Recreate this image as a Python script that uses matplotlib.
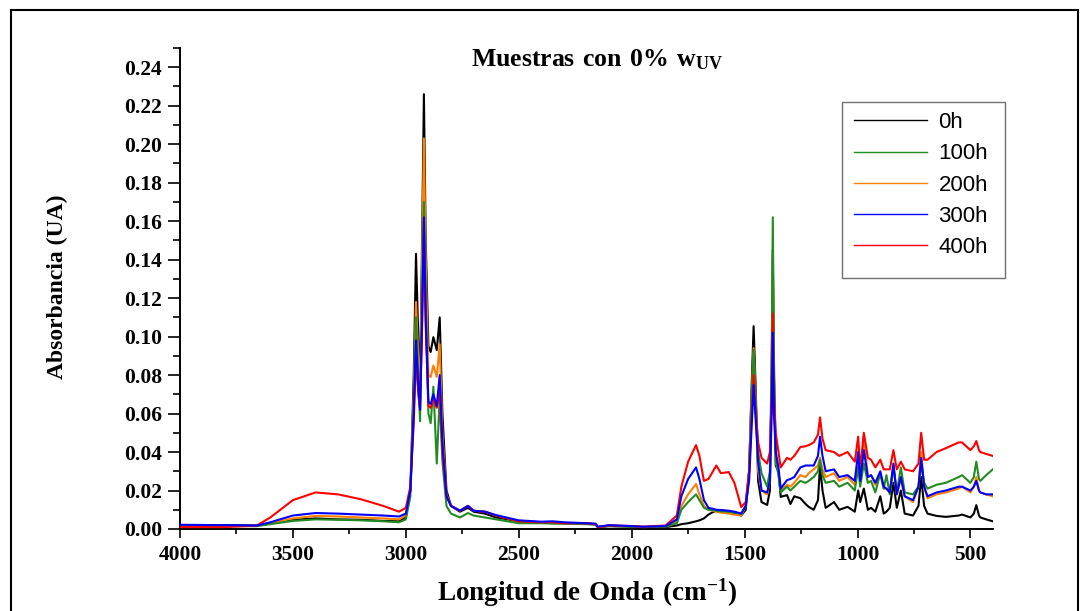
import matplotlib
matplotlib.use('Agg')
import matplotlib.pyplot as plt
from matplotlib.ticker import MultipleLocator, FormatStrFormatter
from matplotlib.patches import Rectangle

plt.rcParams['font.family'] = ['Liberation Serif', 'DejaVu Serif']
plt.rcParams['mathtext.fontset'] = 'custom'
plt.rcParams['mathtext.rm'] = 'Liberation Serif'
plt.rcParams['mathtext.bf'] = 'Liberation Serif:bold'

# wavenumbers (cm-1)
wn = [4000, 3800, 3660, 3600, 3500, 3400, 3300, 3200, 3100, 3030, 3000, 2980, 2965,
      2955, 2945, 2937, 2928, 2920, 2912, 2900, 2890, 2878, 2863, 2850, 2838, 2820,
      2800, 2760, 2725, 2700, 2650, 2600, 2500, 2400, 2350, 2300, 2200, 2160, 2150,
      2100, 2000, 1950, 1850, 1800, 1780, 1750, 1715, 1700, 1680, 1660, 1640, 1625,
      1605, 1570, 1545, 1515, 1495, 1480, 1470, 1460, 1450, 1440, 1425, 1400, 1388,
      1380, 1375, 1370, 1362, 1350, 1340, 1312, 1297, 1280, 1253, 1230, 1216, 1194,
      1175, 1166, 1155, 1141, 1104, 1081, 1044, 1012, 997, 988, 972, 954, 940, 921,
      899, 884, 872, 857, 841, 826, 808, 791, 754, 730, 718, 705, 690, 650, 609, 552,
      537, 500, 485, 474, 462, 456, 430, 401]

abs_0h = [0.002, 0.002, 0.0018, 0.003, 0.0048, 0.0055, 0.005, 0.0048, 0.0042, 0.004, 0.006, 0.02, 0.08,
          0.143, 0.10, 0.075, 0.15, 0.226, 0.15, 0.095, 0.092, 0.0997, 0.093, 0.110, 0.06, 0.02,
          0.012, 0.009, 0.011, 0.009, 0.008, 0.006, 0.004, 0.0035, 0.003, 0.003, 0.0028, 0.0025, 0.001,
          0.0015, 0.0012, 0.0008, 0.001, 0.0018, 0.0025, 0.003, 0.004, 0.0045, 0.0055, 0.0075, 0.0088, 0.0095,
          0.0099, 0.009, 0.008, 0.007, 0.010, 0.03, 0.07, 0.1054, 0.07, 0.025, 0.014, 0.0125, 0.02,
          0.08, 0.145, 0.08, 0.033, 0.03, 0.0167, 0.0176, 0.013, 0.017, 0.016, 0.013, 0.0115, 0.010,
          0.015, 0.033, 0.02, 0.011, 0.014, 0.010, 0.0115, 0.009, 0.020, 0.014, 0.021, 0.010, 0.011, 0.009,
          0.017, 0.008, 0.009, 0.011, 0.024, 0.011, 0.020, 0.008, 0.007, 0.012, 0.027, 0.012, 0.008, 0.0068, 0.0063, 0.007,
          0.0075, 0.006, 0.008, 0.0124, 0.007, 0.006, 0.005, 0.004]

abs_100h = [0.0015, 0.0015, 0.0015, 0.0025, 0.0042, 0.005, 0.0048, 0.0045, 0.004, 0.0035, 0.005, 0.017, 0.065,
            0.110, 0.08, 0.056, 0.12, 0.170, 0.12, 0.06, 0.055, 0.074, 0.034, 0.069, 0.035, 0.012,
            0.008, 0.006, 0.0083, 0.007, 0.006, 0.005, 0.003, 0.003, 0.0028, 0.0028, 0.0025, 0.0022, 0.001,
            0.0015, 0.0012, 0.001, 0.0012, 0.003, 0.010, 0.014, 0.018, 0.015, 0.011, 0.010, 0.0098, 0.0095,
            0.0092, 0.009, 0.0085, 0.008, 0.012, 0.03, 0.065, 0.093, 0.065, 0.04, 0.029, 0.022, 0.03,
            0.09, 0.162, 0.09, 0.035, 0.028, 0.019, 0.022, 0.020, 0.022, 0.025, 0.024, 0.025, 0.027,
            0.030, 0.036, 0.028, 0.024, 0.025, 0.022, 0.024, 0.020, 0.032, 0.022, 0.034, 0.024, 0.025, 0.019,
            0.029, 0.021, 0.028, 0.018, 0.032, 0.019, 0.032, 0.019, 0.018, 0.022, 0.034, 0.024, 0.021, 0.023, 0.024, 0.027,
            0.028, 0.024, 0.027, 0.035, 0.026, 0.025, 0.028, 0.031]

abs_200h = [0.0015, 0.0015, 0.0015, 0.003, 0.0055, 0.0068, 0.0065, 0.006, 0.0055, 0.005, 0.007, 0.02, 0.07,
            0.118, 0.09, 0.07, 0.14, 0.203, 0.14, 0.08, 0.079, 0.085, 0.079, 0.096, 0.05, 0.018,
            0.012, 0.0095, 0.012, 0.0095, 0.009, 0.007, 0.004, 0.0035, 0.0035, 0.003, 0.003, 0.0025, 0.001,
            0.0018, 0.0015, 0.001, 0.0015, 0.004, 0.012, 0.018, 0.0234, 0.018, 0.012, 0.010, 0.0095, 0.009,
            0.0085, 0.008, 0.0075, 0.007, 0.012, 0.03, 0.065, 0.094, 0.065, 0.03, 0.020, 0.018, 0.025,
            0.08, 0.14, 0.08, 0.035, 0.03, 0.020, 0.023, 0.022, 0.024, 0.028, 0.027, 0.029, 0.031,
            0.033, 0.037, 0.031, 0.027, 0.029, 0.025, 0.027, 0.023, 0.038, 0.024, 0.049, 0.027, 0.028, 0.023,
            0.028, 0.021, 0.021, 0.019, 0.034, 0.018, 0.026, 0.017, 0.014, 0.022, 0.040, 0.022, 0.016, 0.018, 0.019, 0.021,
            0.022, 0.019, 0.022, 0.027, 0.020, 0.019, 0.018, 0.017]

abs_300h = [0.0022, 0.002, 0.0018, 0.0035, 0.007, 0.0083, 0.008, 0.0075, 0.007, 0.0065, 0.008, 0.02, 0.06,
            0.098, 0.075, 0.062, 0.11, 0.162, 0.11, 0.066, 0.065, 0.070, 0.064, 0.080, 0.045, 0.017,
            0.012, 0.0095, 0.012, 0.0095, 0.009, 0.0072, 0.0045, 0.0038, 0.004, 0.0035, 0.003, 0.0028, 0.0012,
            0.002, 0.0015, 0.0012, 0.0015, 0.005, 0.017, 0.026, 0.032, 0.026, 0.015, 0.011, 0.0105, 0.010,
            0.0098, 0.0095, 0.009, 0.008, 0.012, 0.025, 0.05, 0.0748, 0.055, 0.035, 0.020, 0.019, 0.025,
            0.06, 0.102, 0.06, 0.04, 0.032, 0.021, 0.0254, 0.026, 0.027, 0.032, 0.033, 0.033, 0.033,
            0.038, 0.048, 0.038, 0.030, 0.031, 0.027, 0.028, 0.025, 0.040, 0.025, 0.041, 0.027, 0.028, 0.024,
            0.030, 0.022, 0.021, 0.019, 0.034, 0.018, 0.027, 0.017, 0.015, 0.022, 0.037, 0.022, 0.017, 0.019, 0.020, 0.022,
            0.022, 0.020, 0.022, 0.025, 0.020, 0.019, 0.018, 0.018]

abs_400h = [0.001, 0.001, 0.0018, 0.006, 0.015, 0.019, 0.018, 0.0155, 0.012, 0.009, 0.011, 0.022, 0.055,
            0.09, 0.07, 0.062, 0.105, 0.155, 0.105, 0.064, 0.063, 0.067, 0.063, 0.071, 0.04, 0.017,
            0.012, 0.0095, 0.012, 0.0095, 0.009, 0.007, 0.004, 0.0035, 0.0035, 0.003, 0.003, 0.0025, 0.001,
            0.0018, 0.0015, 0.0012, 0.0018, 0.007, 0.022, 0.035, 0.0436, 0.038, 0.025, 0.026, 0.030, 0.033,
            0.029, 0.0296, 0.024, 0.0114, 0.014, 0.03, 0.055, 0.080, 0.06, 0.045, 0.037, 0.034, 0.04,
            0.07, 0.112, 0.07, 0.05, 0.04, 0.032, 0.037, 0.036, 0.038, 0.0426, 0.043, 0.0436, 0.045,
            0.049, 0.058, 0.047, 0.041, 0.040, 0.038, 0.040, 0.035, 0.048, 0.031, 0.050, 0.037, 0.036, 0.032,
            0.036, 0.031, 0.031, 0.031, 0.041, 0.031, 0.035, 0.031, 0.030, 0.034, 0.050, 0.036, 0.036, 0.040, 0.042, 0.045,
            0.045, 0.041, 0.043, 0.0457, 0.041, 0.040, 0.039, 0.038]

labels = ['0h', '100h', '200h', '300h', '400h']
colors = ['black', '#228b22', '#ff8000', '#0000ff', '#ff0000']
zorders = [2, 4, 3, 6, 5]

fig = plt.figure(figsize=(10.87, 6.11), dpi=100)
W, H = 1087.0, 611.0
ax = fig.add_axes([180 / W, 1 - 529 / H, (993 - 180) / W, (529 - 48) / H])

series = [abs_0h, abs_100h, abs_200h, abs_300h, abs_400h]
lines = []
for s, lab, c, z in zip(series, labels, colors, zorders):
    ln, = ax.plot(wn, s, color=c, lw=1.5, label=lab, zorder=z)
    lines.append(ln)

ax.set_xlim(4000, 400)
ax.set_ylim(0, 0.25)
ax.set_xticks([4000, 3500, 3000, 2500, 2000, 1500, 1000, 500])
ax.set_yticks([0.00, 0.02, 0.04, 0.06, 0.08, 0.10, 0.12, 0.14, 0.16, 0.18, 0.20, 0.22, 0.24])
ax.xaxis.set_minor_locator(MultipleLocator(250))
ax.yaxis.set_minor_locator(MultipleLocator(0.01))
ax.yaxis.set_major_formatter(FormatStrFormatter('%.2f'))
ax.spines['top'].set_visible(False)
ax.spines['right'].set_visible(False)
ax.spines['left'].set_linewidth(1.4)
ax.spines['bottom'].set_linewidth(1.4)
ax.tick_params(axis='y', which='major', length=9, width=1.2, pad=4, labelsize=15.5)
ax.tick_params(axis='y', which='minor', length=5, width=1.2)
ax.tick_params(axis='x', which='major', length=6.5, width=1.2, pad=5, labelsize=15.5)
ax.tick_params(axis='x', which='minor', length=3.6, width=1.2)
for t in ax.get_xticklabels() + ax.get_yticklabels():
    t.set_fontweight('bold')

fig.text(597 / W, 1 - 60 / H, r'$\mathbf{Muestras\ con\ 0\%\ w_{UV}}$',
         ha='center', va='center', fontsize=18.5)
fig.text(587 / W, 1 - 593 / H, r'$\mathbf{Longitud\ de\ Onda\ (cm^{-1})}$',
         ha='center', va='center', fontsize=19.5)
fig.text(57 / W, 1 - 287 / H, 'Absorbancia (UA)', rotation=90, ha='center', va='center',
         fontsize=17, fontweight='bold')

leg = ax.legend(handles=lines, loc='upper left', bbox_to_anchor=(843 / W, 1 - 101 / H),
                bbox_transform=fig.transFigure, frameon=False, borderpad=0,
                handlelength=3.3, handletextpad=0.5, labelspacing=0.46,
                prop={'family': 'Liberation Sans', 'size': 16})
for h in leg.legend_handles:
    h.set_linewidth(1.0)

# legend box and outer frame
fig.add_artist(Rectangle((842 / W, 1 - 278 / H), (1005 - 842) / W, (278 - 102) / H,
                         transform=fig.transFigure, fill=False, edgecolor='#707070', lw=1.0))
fig.add_artist(Rectangle((11 / W, -0.1), (1078 - 11) / W, 1.1 - 10 / H,
                         transform=fig.transFigure, fill=False, edgecolor='black', lw=1.5))

fig.savefig('out.png', dpi=100)
